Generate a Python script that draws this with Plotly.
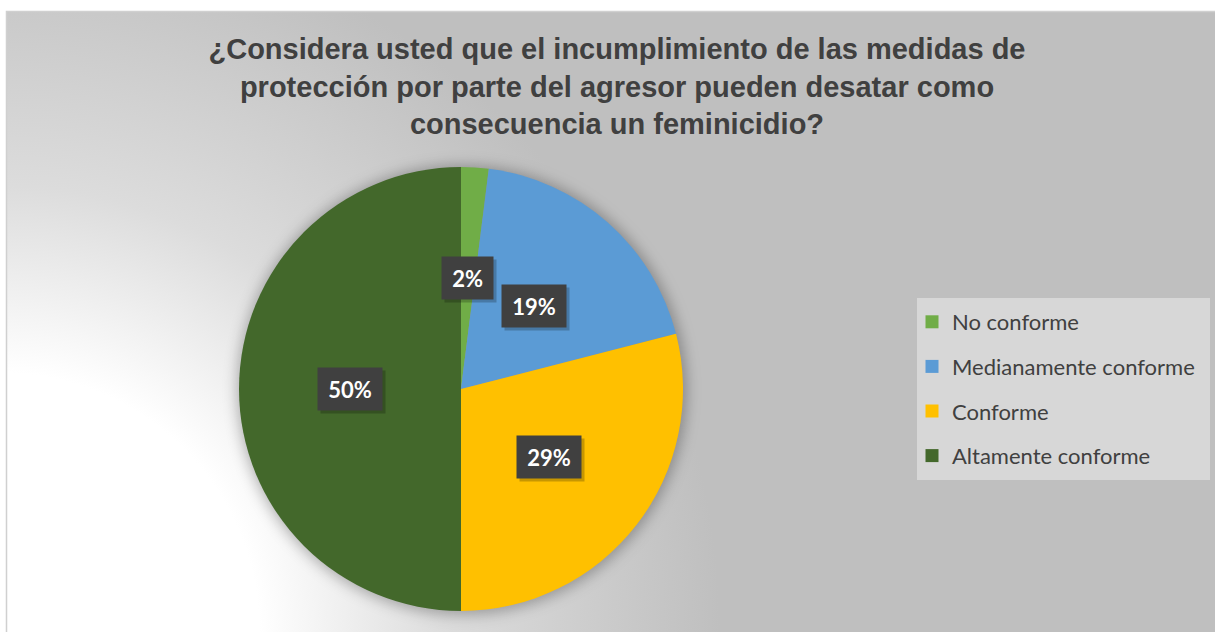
import base64
import math
import plotly.graph_objects as go

# ---- data ----
categories = ["No conforme", "Medianamente conforme", "Conforme", "Altamente conforme"]
values = [2, 19, 29, 50]
colors = ["#70AD47", "#5B9BD5", "#FFC000", "#43682B"]
title_lines = [
    "¿Considera usted que el incumplimiento de las medidas de",
    "protección por parte del agresor pueden desatar como",
    "consecuencia un feminicidio?",
]

W, H = 1215, 632
# pie domain (paper)
dom_x = [239 / W, 683 / W]
dom_y = [(H - 611) / H, (H - 167) / H]

# derived pie geometry in pixels (for decoration & label placement)
cx_px = (dom_x[0] + dom_x[1]) / 2 * W
cy_px = H - (dom_y[0] + dom_y[1]) / 2 * H
R_px = min((dom_x[1] - dom_x[0]) * W, (dom_y[1] - dom_y[0]) * H) / 2

# background: radial gradient + pie shadow as inline SVG
svg = f'''<svg xmlns="http://www.w3.org/2000/svg" width="{W}" height="{H}" viewBox="0 0 {W} {H}">
<defs>
<radialGradient id="g" gradientUnits="userSpaceOnUse" cx="0" cy="{H}" r="720">
<stop offset="0" stop-color="#ffffff"/>
<stop offset="0.36" stop-color="#ffffff"/>
<stop offset="0.62" stop-color="#dcdcdc"/>
<stop offset="1" stop-color="#bfbfbf"/>
</radialGradient>
<filter id="b" x="-20%" y="-20%" width="140%" height="140%"><feGaussianBlur stdDeviation="7"/></filter>
</defs>
<rect x="6.5" y="11.5" width="{W}" height="{H}" fill="url(#g)" stroke="#d0d0d0" stroke-width="1.5"/>
<circle cx="{cx_px + 1:.1f}" cy="{cy_px + 1:.1f}" r="{R_px + 3:.1f}" fill="#000000" fill-opacity="0.28" filter="url(#b)"/>
</svg>'''
svg_uri = "data:image/svg+xml;base64," + base64.b64encode(svg.encode()).decode()

fig = go.Figure()

fig.add_trace(go.Pie(
    labels=categories,
    values=values,
    marker=dict(colors=colors, line=dict(width=0)),
    sort=False,
    direction="clockwise",
    rotation=0,
    textinfo="none",
    hoverinfo="label+percent",
    showlegend=False,
    domain=dict(x=dom_x, y=dom_y),
))

# legend entries (one group each so spacing can match)
for i, (cat, col) in enumerate(zip(categories, colors)):
    fig.add_trace(go.Scatter(
        x=[None], y=[None], mode="markers", name=cat,
        marker=dict(symbol="square", size=13, color=col),
        legendgroup=f"g{i}", showlegend=True,
    ))

# data labels at half radius along slice bisectors
total = sum(values)
cum = 0.0
annotations = []
font_lab = 22
for v in values:
    mid = (cum + v / 2) / total * 2 * math.pi
    cum += v
    px = cx_px + 0.5 * R_px * math.sin(mid)
    py = cy_px - 0.5 * R_px * math.cos(mid)
    txt = f"{round(v / total * 100)}%"
    ndig = len(txt) - 1
    wtxt = font_lab * (0.58 * ndig + 0.84) + 14
    common = dict(xref="paper", yref="paper", x=px / W, y=1 - py / H,
                  xanchor="center", yanchor="middle", showarrow=False,
                  width=wtxt, height=36, borderpad=3, align="center")
    annotations.append(dict(text=" ", bgcolor="rgba(0,0,0,0.22)",
                            xshift=3, yshift=-3,
                            font=dict(size=font_lab, color="rgba(0,0,0,0)"), **common))
    annotations.append(dict(text=f"<b>{txt}</b>", bgcolor="#404040",
                            font=dict(family="Lato", size=font_lab, color="#ffffff"), **common))

# legend box (drawn as a layout rectangle)
legend_box = dict(type="rect", xref="paper", yref="paper",
                  x0=917 / W, x1=1210 / W, y0=1 - 480 / H, y1=1 - 298 / H,
                  fillcolor="#d7d7d7", line=dict(width=0), layer="below")

fig.update_layout(
    width=W, height=H,
    margin=dict(l=0, r=0, t=0, b=0),
    paper_bgcolor="#ffffff",
    plot_bgcolor="rgba(0,0,0,0)",
    xaxis=dict(visible=False), yaxis=dict(visible=False),
    images=[dict(source=svg_uri, xref="paper", yref="paper", x=0, y=1,
                 sizex=1, sizey=1, sizing="stretch", layer="below",
                 xanchor="left", yanchor="top")],
    shapes=[legend_box],
    title=dict(
        text="<b>" + "<br>".join(title_lines) + "</b>",
        x=617 / W, xanchor="center", xref="paper",
        y=1 - 59 / H, yanchor="top", yref="container",
        font=dict(family="Liberation Sans, Arial", size=29, color="#404040"),
    ),
    legend=dict(
        x=912 / W, xanchor="left", y=1 - 301 / H, yanchor="top",
        bgcolor="rgba(0,0,0,0)", borderwidth=0,
        font=dict(family="Lato", size=22, color="#404040"),
        tracegroupgap=13, itemwidth=30,
    ),
    annotations=annotations,
    showlegend=True,
)

fig.write_html("out.html", config={"displayModeBar": False},
               post_script="document.body.style.margin='0';")
